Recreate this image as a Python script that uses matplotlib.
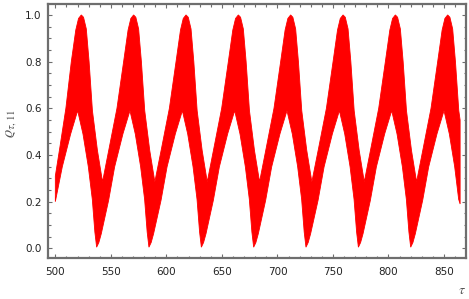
import matplotlib

matplotlib.use("Agg")
import matplotlib.pyplot as plt
import numpy as np

# ── Data: the fast oscillation fills the band between
#    an upper envelope and a lower envelope ────────────────────────────────────

tau_upper = [
    500.0, 504.0, 509.5, 514.4, 518.4, 520.9, 523.4, 525.4, 527.9, 530.4, 533.4, 537.9, 542.5,
    548.5, 555.5, 561.5, 565.5, 568.0, 570.5, 572.5, 575.0, 577.5, 580.5, 585.0, 589.6,
    595.7, 602.7, 608.7, 612.7, 615.2, 617.7, 619.7, 622.2, 624.7, 627.7, 632.2, 636.8,
    642.8, 649.8, 655.8, 659.8, 662.3, 664.8, 666.8, 669.3, 671.8, 674.8, 679.3, 683.9,
    689.9, 696.9, 702.9, 706.9, 709.4, 711.9, 713.9, 716.4, 718.9, 721.9, 726.4, 731.0,
    737.1, 744.1, 750.1, 754.1, 756.6, 759.1, 761.1, 763.6, 766.1, 769.1, 773.6, 778.2,
    784.2, 791.2, 797.2, 801.2, 803.7, 806.2, 808.2, 810.7, 813.2, 816.2, 820.7, 825.3,
    831.3, 838.3, 844.3, 848.3, 850.8, 853.3, 855.3, 857.8, 860.3, 863.3, 864.5,
]
rho_upper = [
    0.31, 0.43, 0.60, 0.80, 0.935, 0.985, 1.0, 0.99, 0.94, 0.80, 0.59, 0.42, 0.285,
    0.43, 0.60, 0.80, 0.935, 0.985, 1.0, 0.99, 0.94, 0.80, 0.59, 0.42, 0.285,
    0.43, 0.60, 0.80, 0.935, 0.985, 1.0, 0.99, 0.94, 0.80, 0.59, 0.42, 0.285,
    0.43, 0.60, 0.80, 0.935, 0.985, 1.0, 0.99, 0.94, 0.80, 0.59, 0.42, 0.285,
    0.43, 0.60, 0.80, 0.935, 0.985, 1.0, 0.99, 0.94, 0.80, 0.59, 0.42, 0.285,
    0.43, 0.60, 0.80, 0.935, 0.985, 1.0, 0.99, 0.94, 0.80, 0.59, 0.42, 0.285,
    0.43, 0.60, 0.80, 0.935, 0.985, 1.0, 0.99, 0.94, 0.80, 0.59, 0.42, 0.285,
    0.43, 0.60, 0.80, 0.935, 0.985, 1.0, 0.99, 0.94, 0.80, 0.59, 0.55,
]

tau_lower = [
    500.0, 506.3, 513.8, 520.1, 524.9, 529.7, 533.3, 535.6, 537.2, 539.2, 541.4,
    548.0, 553.4, 560.9, 567.2, 572.0, 576.8, 580.4, 582.7, 584.3, 586.3, 588.5,
    595.2, 600.6, 608.1, 614.4, 619.2, 624.0, 627.6, 629.9, 631.5, 633.5, 635.7,
    642.3, 647.7, 655.2, 661.5, 666.3, 671.1, 674.7, 677.0, 678.6, 680.6, 682.8,
    689.4, 694.8, 702.3, 708.6, 713.4, 718.2, 721.8, 724.1, 725.7, 727.7, 729.9,
    736.6, 742.0, 749.5, 755.8, 760.6, 765.4, 769.0, 771.3, 772.9, 774.9, 777.1,
    783.7, 789.1, 796.6, 802.9, 807.7, 812.5, 816.1, 818.4, 820.0, 822.0, 824.2,
    830.8, 836.2, 843.7, 850.0, 854.8, 859.6, 863.2, 864.5,
]
rho_lower = [
    0.20, 0.35, 0.49, 0.59, 0.49, 0.35, 0.21, 0.07, 0.005, 0.025, 0.063,
    0.206, 0.349, 0.491, 0.59, 0.49, 0.35, 0.21, 0.07, 0.005, 0.025, 0.063,
    0.206, 0.349, 0.491, 0.59, 0.49, 0.35, 0.21, 0.07, 0.005, 0.025, 0.063,
    0.206, 0.349, 0.491, 0.59, 0.49, 0.35, 0.21, 0.07, 0.005, 0.025, 0.063,
    0.206, 0.349, 0.491, 0.59, 0.49, 0.35, 0.21, 0.07, 0.005, 0.025, 0.063,
    0.206, 0.349, 0.491, 0.59, 0.49, 0.35, 0.21, 0.07, 0.005, 0.025, 0.063,
    0.206, 0.349, 0.491, 0.59, 0.49, 0.35, 0.21, 0.07, 0.005, 0.025, 0.063,
    0.206, 0.349, 0.491, 0.59, 0.49, 0.35, 0.21, 0.19,
]

x_ticks = [500, 550, 600, 650, 700, 750, 800, 850]
y_ticks = [0.0, 0.2, 0.4, 0.6, 0.8, 1.0]

RED = "#FF0000"
FRAME = "#6E6E6E"
LABEL = "#555555"

plt.rcParams["mathtext.fontset"] = "stix"

W, H = 469, 299
fig = plt.figure(figsize=(W / 100, H / 100), dpi=100)
ax = fig.add_axes([48 / W, 41.3 / H, (466 - 48) / W, (257.7 - 3.5) / H])

# band polygon: upper envelope left→right, lower envelope right→left
xs = np.concatenate([tau_upper, tau_lower[::-1]])
ys = np.concatenate([rho_upper, rho_lower[::-1]])
ax.fill(xs, ys, color=RED, lw=0.6, ec=RED)

ax.set_xlim(493.4, 869.8)
ax.set_ylim(-0.040, 1.049)
ax.set_xticks(x_ticks)
ax.set_yticks(y_ticks)
ax.set_xticklabels([str(t) for t in x_ticks])
ax.set_yticklabels([f"{t:.1f}" for t in y_ticks])
ax.set_xticks(np.arange(500, 870, 10), minor=True)
ax.set_yticks(np.arange(0.0, 1.05, 0.05), minor=True)

ax.tick_params(which="both", direction="in", top=True, right=True,
               color=FRAME, width=0.8, labelsize=7.5, labelcolor="#222222")
ax.tick_params(which="major", length=3.2)
ax.tick_params(which="minor", length=1.8)
ax.tick_params(axis="x", pad=7)
ax.tick_params(axis="y", pad=4.5)

for sp in ax.spines.values():
    sp.set_color(FRAME)
    sp.set_linewidth(1.6)

fig.text(10 / W, 1 - 123 / H, r"$\varrho_{\tau,11}$", rotation=90,
         ha="center", va="center", fontsize=11.5, color=LABEL)
fig.text(462 / W, 1 - 290.5 / H, r"$\tau$", ha="center", va="center",
         fontsize=10, color=LABEL)

fig.savefig("out.png", dpi=100, facecolor="white")
